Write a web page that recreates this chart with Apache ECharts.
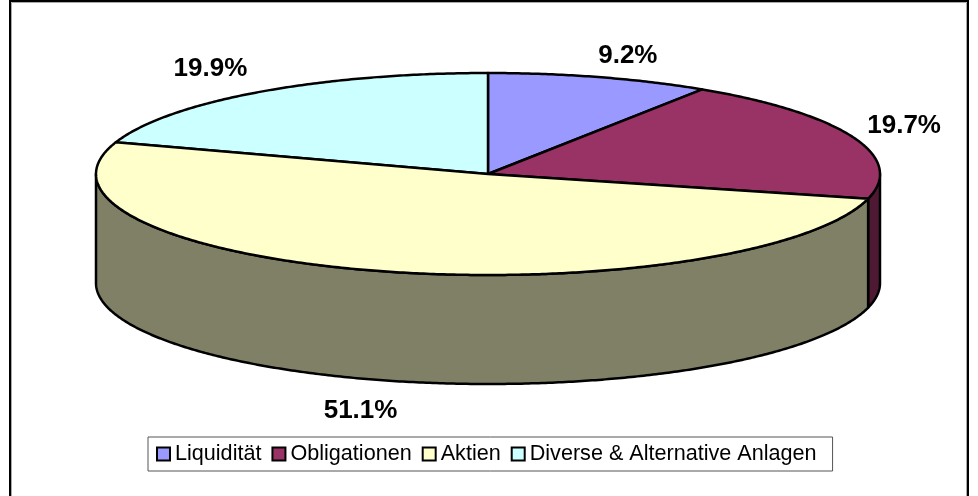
<!DOCTYPE html>
<html>
<head>
<meta charset="utf-8">
<style>html,body{margin:0;padding:0;background:#fff}#c{width:978px;height:496px}</style>
<script src="https://cdn.jsdelivr.net/npm/echarts@6/dist/echarts.min.js"></script>
</head>
<body>
<div id="c"></div>
<script>
const categories = ['Liquidität', 'Obligationen', 'Aktien', 'Diverse & Alternative Anlagen'];
const shares = [9.2, 19.7, 51.1, 19.9];
const topColors = ['#9999FF', '#993366', '#FFFFCC', '#CCFFFF'];
const wallColors = ['#4D4D80', '#4D1933', '#808066', '#668080'];
const labelOffsets = [[28, -21], [51, -11], [-18, 140], [-48, -23]];

const CX = 488, CY = 174, RX = 392, RY = 101, DEPTH = 109;
const total = shares.reduce((a, b) => a + b, 0);
const FONT = '"Liberation Sans", Arial, sans-serif';

function pt(deg, dy) {
  const r = deg * Math.PI / 180;
  return [CX + RX * Math.sin(r), CY - RY * Math.cos(r) + (dy || 0)];
}
function arc(a, b, dy) {
  const out = [], n = Math.max(2, Math.ceil(Math.abs(b - a) * 2));
  for (let i = 0; i <= n; i++) out.push(pt(a + (b - a) * i / n, dy));
  return out;
}
function startDeg(i) {
  let s = 0;
  for (let k = 0; k < i; k++) s += shares[k];
  return s / total * 360;
}
const lineStyle = { stroke: '#000', lineWidth: 2.5, lineJoin: 'round' };

function makeRender(idx) {
  return function (params, api) {
    const v = api.value(0);
    const a = startDeg(idx), b = a + v / total * 360;
    const children = [];
    const wa = Math.max(a, 90), wb = Math.min(b, 270);
    if (wb > wa) {
      const top = arc(wa, wb, 0), bot = arc(wb, wa, DEPTH);
      children.push({
        type: 'polygon', z2: 1,
        shape: { points: top.concat(bot) },
        style: Object.assign({ fill: wallColors[idx] }, lineStyle)
      });
    }
    children.push({
      type: 'polygon', z2: 2,
      shape: { points: [[CX, CY]].concat(arc(a, b, 0)) },
      style: Object.assign({ fill: topColors[idx] }, lineStyle)
    });
    const m = pt((a + b) / 2, 0), off = labelOffsets[idx];
    children.push({
      type: 'text', z2: 3,
      style: {
        x: m[0] + off[0], y: m[1] + off[1],
        text: v.toFixed(1) + '%',
        fill: '#000', font: 'bold 26px ' + FONT,
        align: 'center', verticalAlign: 'middle'
      }
    });
    return { type: 'group', children };
  };
}

const chart = echarts.init(document.getElementById('c'), null, { renderer: 'canvas' });
chart.setOption({
  animation: false,
  backgroundColor: '#fff',
  legend: {
    left: 148, top: 437,
    padding: [6, 16, 6, 8],
    backgroundColor: '#fff',
    borderColor: '#555',
    borderWidth: 1,
    borderRadius: 0,
    itemWidth: 13, itemHeight: 13, itemGap: 10,
    icon: 'rect',
    selectedMode: false,
    textStyle: { fontFamily: FONT, fontSize: 21.6, color: '#000', padding: [0, 0, 0, 0] },
    data: categories.map((name, i) => ({
      name,
      itemStyle: { color: topColors[i], borderColor: '#000', borderWidth: 2 }
    }))
  },
  graphic: [
    { type: 'rect', silent: true, z: -2,
      shape: { x: 10, y: 1, width: 958, height: 500 },
      style: { fill: '#fff', stroke: '#000', lineWidth: 2 } },
    { type: 'rect', silent: true, z: -1,
      shape: { x: 11.5, y: 2.5, width: 955, height: 500 },
      style: { fill: 'none', stroke: '#aaa', lineWidth: 1 } }
  ],
  series: categories.map((name, i) => ({
    type: 'custom',
    name,
    coordinateSystem: 'none',
    itemStyle: { color: topColors[i] },
    renderItem: makeRender(i),
    data: [[shares[i]]],
    silent: true,
    z: i === 2 ? 3 : 2
  }))
});
</script>
</body>
</html>
